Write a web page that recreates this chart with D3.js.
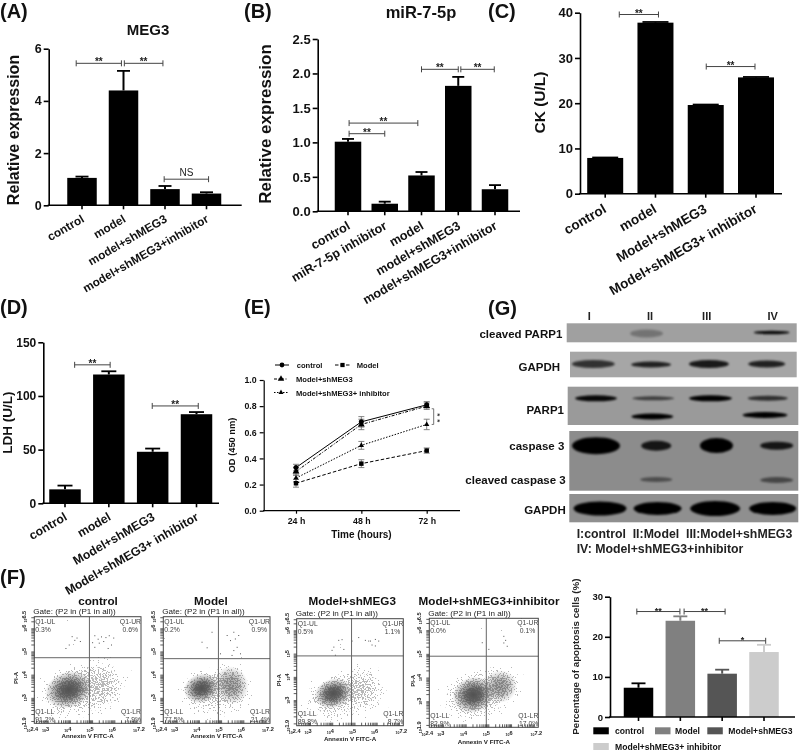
<!DOCTYPE html>
<html>
<head>
<meta charset="utf-8">
<script src="https://cdn.jsdelivr.net/npm/d3@7/dist/d3.min.js"></script>
<style>
html,body{margin:0;padding:0;background:#fff}
svg{display:block;filter:blur(0.35px)}
text{font-family:"Liberation Sans",Arial,sans-serif;fill:#111}
</style>
</head>
<body>
<svg id="fig" width="800" height="751" viewBox="0 0 800 751"></svg>
<script>
// ---------- Data ----------
const meg3Categories = ["control","model","model+shMEG3","model+shMEG3+inhibitor"];
const meg3Values = [1.05,4.4,0.62,0.45];
const meg3Upper = [1.1,5.15,0.74,0.5];
const meg3Brackets = [[-0.14,0.95,5.44,"**"],[1.02,1.95,5.44,"**"],[1.98,3.05,1.0,"NS"]];

const mirCategories = ["control","miR-7-5p inhibitor","model","model+shMEG3","model+shMEG3+inhibitor"];
const mirValues = [1.01,0.11,0.52,1.82,0.32];
const mirUpper = [1.05,0.14,0.57,1.95,0.38];
const mirBrackets = [[0.03,1.0,1.126,"**"],[0.03,1.9,1.28,"**"],[2.0,3.0,2.06,"**"],[3.07,3.98,2.06,"**"]];

const enzymeCategories = ["control","model","Model+shMEG3","Model+shMEG3+ inhibitor"];
const ckValues = [7.9,37.8,19.6,25.7];
const ckUpper = [8.0,37.95,19.7,25.8];
const ckBrackets = [[0.28,1.06,39.6,"**"],[2.01,2.98,28.1,"**"]];

const ldhValues = [13,120,48,83];
const ldhUpper = [16.5,123,51,85];
const ldhBrackets = [[0.22,1.03,129,"**"],[1.99,3.04,90.7,"**"]];

const odTimes = ["24 h","48 h","72 h"];
const odControl = [0.33,0.68,0.81];
const odModel = [0.21,0.36,0.46];
const odShMEG3 = [0.30,0.66,0.80];
const odInhibitor = [0.25,0.50,0.66];
const odControlErr = [0.025,0.04,0.025];
const odModelErr = [0.03,0.03,0.02];
const odShMEG3Err = [0.03,0.04,0.025];
const odInhibitorErr = [0.03,0.03,0.04];
const odSeriesNames = ["control","Model","Model+shMEG3","Model+shMEG3+ inhibitor"];

const apoptosisCategories = ["control","Model","Model+shMEG3","Model+shMEG3+ inhibitor"];
const apoptosisValues = [7.3,24,10.8,16.2];
const apoptosisUpper = [8.4,25.1,11.8,18];
const apoptosisBrackets = [[-0.04,0.99,26.3,"**"],[1.09,2.07,26.3,"**"],[1.93,3.04,19,"*"]];

const flowTitles = ["control","Model","Model+shMEG3","Model+shMEG3+inhibitor"];
const flowUL = ["0.3%","0.2%","0.5%","0.0%"];
const flowUR = ["0.6%","0.9%","1.1%","0.1%"];
const flowLL = ["91.2%","77.5%","89.8%","82.9%"];
const flowLR = ["7.9%","21.4%","8.7%","17.0%"];
// gate positions on the log axes (decades)
const flowGateX = [4.88,4.88,4.87,4.91];
const flowGateY = [4.73,4.69,4.9,4.9];
// upper-quadrant events read one by one (log10 x, log10 y)
const flowEventsControl = [[4.08,5.66],[4.2,5.5],[4.3,5.6],[4.45,5.45],[3.8,5.15],[3.95,5.3],[5.1,5.7],[5.25,5.55],[5.4,5.65],[5.6,5.62],[5.75,5.7],[5.95,5.6],[5.5,5.45],[5.3,5.38],[5.1,5.2],[5.7,5.15],[5.0,5.4],[5.85,5.3]];
const flowEventsModel = [[4.12,5.42],[4.57,5.85],[4.35,5.18],[5.25,5.71],[5.55,5.85],[5.4,5.49],[5.62,5.56],[5.77,5.71],[5.7,5.2],[5.85,4.92],[5.47,4.85],[5.55,5.06],[4.95,4.92]];
const flowEventsShMEG3 = [[4.42,5.62],[4.27,5.59],[4.05,5.3],[3.97,5.16],[4.5,5.2],[5.17,5.71],[5.47,5.59],[5.7,5.56],[5.92,5.63],[6.07,5.56],[5.77,5.39],[5.92,5.35],[5.62,5.56],[4.87,5.56],[4.12,4.95]];
const flowEventsInhibitor = [[4.71,5.49],[5.66,5.76],[5.74,5.59],[5.66,5.48],[5.81,5.34],[5.0,5.21]];
// population clouds: centre x, centre y, spread x, spread y (decades), density
const flowCloudsControl = [[4.4,3.25,1.2,0.8,0.8],[5.5,3.6,0.62,0.72,0.82],[3.95,3.35,0.72,0.52,1]];
const flowCloudsModel = [[4.8,3.25,1.15,0.8,0.78],[5.47,3.55,0.5,0.55,0.9],[4.12,3.41,0.54,0.42,1]];
const flowCloudsShMEG3 = [[4.3,3.15,1.1,0.72,0.78],[5.47,3.5,0.6,0.7,0.8],[4.05,3.29,0.58,0.42,1]];
const flowCloudsInhibitor = [[4.6,3.25,1.25,0.8,0.8],[5.52,3.62,0.5,0.46,0.9],[4.34,3.27,0.62,0.5,1]];

const blotLanes = ["I","II","III","IV"];
const cleavedParp1Signal = [0,0.28,0,0.95];
const gapdhTopSignal = [0.7,0.8,0.85,0.8];
const parp1Signal = [0.95,0.6,1,0.7];
const parp1LowerSignal = [0,1,0,1];
const caspase3Signal = [1,0.85,1,0.85];
const cleavedCaspase3Signal = [0,0.45,0,0.5];
const gapdhBottomSignal = [1,1,1,1];

// ---------- Helpers ----------
const svg = d3.select("#fig");
const FONT_BOLD = 700;
const defs = svg.append("defs");
defs.append("filter").attr("id","bandBlur").attr("x","-30%").attr("y","-80%").attr("width","160%").attr("height","260%")
  .append("feGaussianBlur").attr("stdDeviation",1.3);

function label(g,x,y,txt,size,opts={}){
  return g.append("text").attr("x",x).attr("y",y).text(txt)
    .attr("font-size",size).attr("font-weight",opts.weight===undefined?FONT_BOLD:opts.weight)
    .attr("text-anchor",opts.anchor||"start")
    .style("fill",opts.fill||"#111");
}
function vLabel(g,x,y,txt,size,opts={}){
  return g.append("text").attr("transform",`translate(${x},${y}) rotate(-90)`).text(txt)
    .attr("font-size",size).attr("font-weight",opts.weight===undefined?FONT_BOLD:opts.weight)
    .attr("text-anchor","middle").style("fill",opts.fill||"#111");
}

function barPanel(c){
  const g = svg.append("g");
  const step = (c.cLast-c.cFirst)/(c.categories.length-1);
  const x = d3.scaleBand().domain(c.categories)
    .range([c.cFirst-step/2,c.cLast+step/2])
    .paddingInner(1-c.barW/step).paddingOuter((1-c.barW/step)/2);
  const y = d3.scaleLinear().domain(c.domain).range([c.base,c.top]);
  const xi = d3.scaleLinear().domain([0,c.categories.length-1]).range([c.cFirst,c.cLast]);
  const fills = c.fills || c.categories.map(()=> "#000");

  g.selectAll(".bar").data(c.values).join("rect")
    .attr("x",(d,i)=>x(c.categories[i])).attr("width",x.bandwidth())
    .attr("y",d=>y(d)).attr("height",d=>c.base-y(d)).attr("fill",(d,i)=>fills[i]);
  const errColor = (i)=> fills[i];
  g.selectAll(".err").data(c.upper).join("line")
    .attr("x1",(d,i)=>xi(i)).attr("x2",(d,i)=>xi(i))
    .attr("y1",(d,i)=>y(c.values[i])).attr("y2",d=>y(d))
    .attr("stroke",(d,i)=>errColor(i)).attr("stroke-width",2);
  g.selectAll(".cap").data(c.upper).join("line")
    .attr("x1",(d,i)=>xi(i)-c.capW/2).attr("x2",(d,i)=>xi(i)+c.capW/2)
    .attr("y1",d=>y(d)).attr("y2",d=>y(d))
    .attr("stroke",(d,i)=>errColor(i)).attr("stroke-width",1.8);

  const yAxis = d3.axisLeft(y).tickValues(c.ticks).tickFormat(c.tickFormat).tickSize(5).tickSizeOuter(0);
  const ya = g.append("g").attr("transform",`translate(${c.axisX},0)`).call(yAxis);
  ya.selectAll("path,line").attr("stroke","#000").attr("stroke-width",1.6);
  ya.selectAll("text").attr("font-size",c.tickFont).attr("font-weight",FONT_BOLD).attr("x",-7);

  g.append("line").attr("x1",c.axisX-1).attr("x2",c.axisEnd).attr("y1",c.base).attr("y2",c.base)
    .attr("stroke","#000").attr("stroke-width",1.6);
  const xAxis = d3.axisBottom(x).tickSize(4).tickSizeOuter(0);
  const xa = g.append("g").attr("transform",`translate(0,${c.base})`).call(xAxis);
  xa.select(".domain").remove();
  xa.selectAll("line").attr("stroke","#000").attr("stroke-width",1.6);
  if(c.showXLabels!==false){
    xa.selectAll("text").attr("x",0).attr("y",0).attr("dy",0)
      .attr("text-anchor","end").attr("font-size",c.labelFont).attr("font-weight",FONT_BOLD)
      .attr("transform",`translate(${c.labelDx},${c.labelDy}) rotate(-30)`);
  } else {
    xa.selectAll("text").remove();
  }

  c.brackets.forEach(b=>{
    const x1=xi(b[0]),x2=xi(b[1]),yy=y(b[2]);
    const col="#444";
    g.append("path").attr("d",`M${x1},${yy-3}V${yy+3}M${x1},${yy}H${x2}M${x2},${yy-3}V${yy+3}`)
      .attr("fill","none").attr("stroke",col).attr("stroke-width",1);
    const isStar=b[3].includes("*");
    label(g,(x1+x2)/2,yy+(isStar?2:-3),b[3],isStar?c.starFont:10,{anchor:"middle",fill:"#222",weight:isStar?700:400});
  });
  return g;
}

// ---------- Panel letters ----------
const letters = [["(A)",0,18],["(B)",244,18],["(C)",488,18],["(D)",0,314],["(E)",244,314],["(G)",488,315],["(F)",0,584]];
letters.forEach(l=>label(svg,l[1],l[2],l[0],20));

// ---------- Panel A ----------
barPanel({categories:meg3Categories,values:meg3Values,upper:meg3Upper,brackets:meg3Brackets,
  cFirst:82,cLast:206.5,barW:29.5,capW:13,domain:[0,6],base:205.3,top:48.7,axisX:48.7,axisEnd:241.7,
  ticks:[0,2,4,6],tickFormat:d3.format("d"),tickFont:12.5,labelFont:11.8,labelDx:3,labelDy:16,starFont:10});
label(svg,148,35,"MEG3",15,{anchor:"middle"});
vLabel(svg,19,130,"Relative expression",16);

// ---------- Panel B ----------
barPanel({categories:mirCategories,values:mirValues,upper:mirUpper,brackets:mirBrackets,
  cFirst:348,cLast:495,barW:26.5,capW:12,domain:[0,2.5],base:211.3,top:39,axisX:317.7,axisEnd:520,
  ticks:[0,0.5,1,1.5,2,2.5],tickFormat:d3.format(".1f"),tickFont:13,labelFont:12.6,labelDx:3,labelDy:17,starFont:10});
label(svg,421,17.5,"miR-7-5p",16.5,{anchor:"middle"});
vLabel(svg,271,124,"Relative expression",17);

// ---------- Panel C ----------
barPanel({categories:enzymeCategories,values:ckValues,upper:ckUpper,brackets:ckBrackets,
  cFirst:605.2,cLast:756,barW:36,capW:26,domain:[0,40],base:193.7,top:12.7,axisX:580,axisEnd:782,
  ticks:[0,10,20,30,40],tickFormat:d3.format("d"),tickFont:13,labelFont:13.6,labelDx:2,labelDy:18,starFont:10});
vLabel(svg,545,102.5,"CK (U/L)",15.5);

// ---------- Panel D ----------
barPanel({categories:enzymeCategories,values:ldhValues,upper:ldhUpper,brackets:ldhBrackets,
  cFirst:65,cLast:196.5,barW:31.5,capW:15,domain:[0,150],base:503.3,top:342.3,axisX:43.3,axisEnd:219,
  ticks:[0,50,100,150],tickFormat:d3.format("d"),tickFont:12,labelFont:12.3,labelDx:3,labelDy:16,starFont:10});
vLabel(svg,12,422.7,"LDH (U/L)",13.5);

// ---------- Panel E ----------
(function(){
  const g = svg.append("g");
  const x = d3.scalePoint().domain(odTimes).range([296,426.7]);
  const y = d3.scaleLinear().domain([0,1]).range([510.7,380]);
  const series = [
    {v:odControl,e:odControlErr,sym:d3.symbolCircle,dash:null},
    {v:odModel,e:odModelErr,sym:d3.symbolSquare,dash:"3.5,2"},
    {v:odShMEG3,e:odShMEG3Err,sym:d3.symbolTriangle,dash:"3,1.5,1,1.5"},
    {v:odInhibitor,e:odInhibitorErr,sym:d3.symbolTriangle2,dash:"1.5,1.5"}
  ];
  const line = d3.line().x((d,i)=>x(odTimes[i])).y(d=>y(d));
  series.forEach(s=>{
    odTimes.forEach((t,i)=>{
      const yt=y(s.v[i]+s.e[i]),yb=y(s.v[i]-s.e[i]),cx=x(t);
      g.append("path").attr("d",`M${cx-3},${yt}H${cx+3}M${cx},${yt}V${yb}M${cx-3},${yb}H${cx+3}`)
        .attr("fill","none").attr("stroke","#777").attr("stroke-width",0.9);
    });
  });
  series.forEach(s=>{
    g.append("path").attr("d",line(s.v)).attr("fill","none").attr("stroke","#000").attr("stroke-width",1)
      .attr("stroke-dasharray",s.dash);
    g.selectAll(null).data(s.v).join("path")
      .attr("d",d3.symbol().type(s.sym).size(20))
      .attr("transform",(d,i)=>`translate(${x(odTimes[i])},${y(d)})`).attr("fill","#000");
  });
  const ya = g.append("g").attr("transform","translate(263.7,0)")
    .call(d3.axisLeft(y).tickValues([0,0.2,0.4,0.6,0.8,1]).tickFormat(d3.format(".1f")).tickSize(4).tickSizeOuter(0));
  ya.selectAll("path,line").attr("stroke","#000").attr("stroke-width",1.2);
  ya.selectAll("text").attr("font-size",8.8).attr("font-weight",FONT_BOLD);
  g.append("line").attr("x1",263).attr("x2",460).attr("y1",510.7).attr("y2",510.7).attr("stroke","#000").attr("stroke-width",1.2);
  const xa = g.append("g").attr("transform","translate(0,510.7)")
    .call(d3.axisBottom(x).tickSize(3).tickSizeOuter(0));
  xa.select(".domain").remove();
  xa.selectAll("line").attr("stroke","#000").attr("stroke-width",1.2);
  xa.selectAll("text").attr("font-size",8.8).attr("font-weight",FONT_BOLD).attr("y",7);
  label(svg,361.5,538,"Time (hours)",10,{anchor:"middle"});
  vLabel(svg,235,445,"OD (450 nm)",9.3);

  // significance marker at 72 h
  const bx=x("72 h")+7;
  g.append("path").attr("d",`M${bx-2},${y(0.78)}H${bx}V${y(0.66)}H${bx-2}`).attr("fill","none").attr("stroke","#666").attr("stroke-width",0.9);
  ["*","*"].forEach((s,i)=>g.append("text").text(s).attr("font-size",8).attr("font-weight",FONT_BOLD)
    .attr("transform",`translate(${bx+1},${y(0.745-i*0.045)}) rotate(90)`).style("fill","#333"));

  // legend
  const leg=[[275,365,odSeriesNames[0],296.7,0],[335,365,odSeriesNames[1],356.7,1],[275,379,odSeriesNames[2],296,2],[275,392.5,odSeriesNames[3],296,3]];
  leg.forEach(l=>{
    const s=series[l[4]];
    const x1=l[4]===0?275:(l[4]===1?335:274);
    const x2=l[4]===0?289:(l[4]===1?350:288);
    g.append("line").attr("x1",x1).attr("x2",x2).attr("y1",l[1]).attr("y2",l[1]).attr("stroke","#000").attr("stroke-width",1).attr("stroke-dasharray",s.dash);
    g.append("path").attr("d",d3.symbol().type(s.sym).size(18)).attr("transform",`translate(${(x1+x2)/2},${l[1]})`).attr("fill","#000");
    label(g,l[3],l[1]+3,l[2],7.6);
  });
})();

// ---------- Panel G: immunoblots ----------
(function(){
  const g = svg.append("g");
  const rows = [
    {box:[566.7,323.3,796.7,342.3],bg:"#a0a0a0",s:cleavedParp1Signal,first:584,last:771.7,cy:[333.5,333.5,333.5,332.5],w:[0,33,0,36],h:[0,8,0,3.5]},
    {box:[570,351.7,796.7,377.3],bg:"#a6a6a6",s:gapdhTopSignal,first:593.3,last:766.7,cy:[364,364.5,364,364],w:[43,40,40,37],h:[8,6,8,7]},
    {box:[567.7,386.7,798.3,425],bg:"#9a9a9a",s:parp1Signal,first:596,last:767.7,cy:[398.3,398.3,398.3,398.3],w:[42,42,43,40],h:[6,4,6,5]},
    {box:[567.7,386.7,798.3,425],bg:null,s:parp1LowerSignal,first:596,last:765,cy:[416.5,416.5,416.5,415],w:[0,42,0,45],h:[0,6,0,6]},
    {box:[569.3,431,798.3,490.7],bg:"#8c8c8c",s:caspase3Signal,first:596,last:776.7,cy:[445.7,445.7,445.5,445.7],w:[48,30,33,33],h:[17,10,15,8]},
    {box:[569.3,431,798.3,490.7],bg:null,s:cleavedCaspase3Signal,first:596,last:776.7,cy:[479.5,479.5,479.5,480],w:[0,32,0,33],h:[0,5,0,6]},
    {box:[569.3,494,798.3,522.3],bg:"#8f8f8f",s:gapdhBottomSignal,first:600,last:772.7,cy:[508.5,508.5,508.5,508.5],w:[53,48,50,47],h:[14,13,15,13]}
  ];
  rows.forEach(r=>{
    if(r.bg) g.append("rect").attr("x",r.box[0]).attr("y",r.box[1]).attr("width",r.box[2]-r.box[0]).attr("height",r.box[3]-r.box[1]).attr("fill",r.bg);
  });
  rows.forEach((r,ri)=>{
    const lane = d3.scalePoint().domain(blotLanes).range([r.first,r.last]);
    const cid="blotClip"+ri;
    defs.append("clipPath").attr("id",cid).append("rect").attr("x",r.box[0]).attr("y",r.box[1]).attr("width",r.box[2]-r.box[0]).attr("height",r.box[3]-r.box[1]);
    g.append("g").attr("clip-path",`url(#${cid})`).selectAll("ellipse").data(r.s).join("ellipse")
      .attr("cx",(d,i)=>lane(blotLanes[i])).attr("cy",(d,i)=>r.cy[i])
      .attr("rx",(d,i)=>r.w[i]/2).attr("ry",(d,i)=>r.h[i]/2)
      .attr("fill","#050505").attr("fill-opacity",d=>d).attr("filter","url(#bandBlur)");
  });
  const laneX=[589.3,650,706.7,772.7];
  blotLanes.forEach((l,i)=>label(g,laneX[i],320,l,11,{anchor:"middle",fill:"#222"}));
  [["cleaved PARP1",562.3,338],["GAPDH",560,370.7],["PARP1",564,414],["caspase 3",564.3,450],["cleaved caspase 3",565.7,484.3],["GAPDH",565.7,514]]
    .forEach(t=>label(g,t[1],t[2],t[0],11.5,{anchor:"end"}));
  label(g,576.7,537.7,"I:control  II:Model  III:Model+shMEG3",12.3,{fill:"#222"}).style("white-space","pre");
  label(g,576.7,553,"IV: Model+shMEG3+inhibitor",12.3,{fill:"#222"});
})();

// ---------- Panel F: flow cytometry ----------
const speck = defs.append("filter").attr("id","speck").attr("x",0).attr("y",0).attr("width",1).attr("height",1)
  .attr("color-interpolation-filters","sRGB");
speck.append("feTurbulence").attr("type","fractalNoise").attr("baseFrequency",0.7).attr("numOctaves",2).attr("seed",7).attr("result","n");
speck.append("feColorMatrix").attr("in","n").attr("type","matrix")
  .attr("values","0 0 0 0 0  0 0 0 0 0  0 0 0 0 0  2.5 0 0 0 -1.15").attr("result","na");
speck.append("feComposite").attr("in","SourceGraphic").attr("in2","na").attr("operator","arithmetic")
  .attr("k1",0).attr("k2",1).attr("k3",1).attr("k4",0).attr("result","sum");
speck.append("feColorMatrix").attr("in","sum").attr("type","matrix")
  .attr("values","0 0 0 0 0.3  0 0 0 0 0.3  0 0 0 0 0.3  0 0 0 10 -9.6");

const cloudGrad = defs.append("radialGradient").attr("id","cloudGrad");
d3.range(0,1.01,0.1).forEach(t=>cloudGrad.append("stop").attr("offset",t).attr("stop-color","#000")
  .attr("stop-opacity",Math.exp(-t*t*1.6)*(1-t*t*t)));
const coreGrad = defs.append("radialGradient").attr("id","coreGrad");
[[0,0.85],[0.4,0.72],[0.72,0.32],[1,0]].forEach(s=>coreGrad.append("stop").attr("offset",s[0]).attr("stop-color","#404040").attr("stop-opacity",s[1]));

const flowPanels = [
  {f:[34.3,616.7,141,723.3],titleX:98,titleY:605,gateY:614.5,pi:16,xlabY:738,events:flowEventsControl,clouds:flowCloudsControl},
  {f:[163.3,616.7,270,723.3],titleX:211,titleY:605,gateY:614.5,pi:null,xlabY:738,events:flowEventsModel,clouds:flowCloudsModel},
  {f:[296.7,618.7,403.3,725.7],titleX:352.3,titleY:605,gateY:616.5,pi:279,xlabY:741,events:flowEventsShMEG3,clouds:flowCloudsShMEG3},
  {f:[429.3,618.3,538.3,727.3],titleX:489,titleY:605,gateY:616.5,pi:412.7,xlabY:744,events:flowEventsInhibitor,clouds:flowCloudsInhibitor}
];
flowPanels.forEach((p,i)=>{
  const [x0,y0,x1,y1]=p.f;
  const g=svg.append("g");
  const x=d3.scaleLinear().domain([2.4,7.2]).range([x0,x1]);
  const y=d3.scaleLinear().domain([1.9,6.5]).range([y1,y0]);
  const cid="flowClip"+i;
  defs.append("clipPath").attr("id",cid).append("rect").attr("x",x0).attr("y",y0).attr("width",x1-x0).attr("height",y1-y0);

  const body=g.append("g").attr("clip-path",`url(#${cid})`);
  const cloud=body.append("g").attr("filter","url(#speck)");
  cloud.append("rect").attr("x",x0).attr("y",y0).attr("width",x1-x0).attr("height",y1-y0).attr("fill","#000").attr("fill-opacity",0);
  p.clouds.forEach(c=>{
    const rx=x(c[0]+c[2]*2.1)-x(c[0]), ry=y(c[1])-y(c[1]+c[3]*2.1);
    cloud.append("ellipse").attr("rx",rx).attr("ry",ry)
      .attr("transform",`translate(${x(c[0])},${y(c[1])}) rotate(-18)`)
      .attr("fill","url(#cloudGrad)").attr("opacity",c[4]);
  });
  // dense parts of the populations appear as nearly solid dark areas
  p.clouds.filter(c=>c[4]>0.85).forEach(c=>{
    const rx=x(c[0]+c[2]*1.5)-x(c[0]), ry=y(c[1])-y(c[1]+c[3]*1.5);
    body.append("ellipse").attr("rx",rx).attr("ry",ry)
      .attr("transform",`translate(${x(c[0])},${y(c[1])}) rotate(-18)`)
      .attr("fill","url(#coreGrad)").attr("opacity",c[4]===1?1:0.55);
  });
  body.selectAll(".ev").data(p.events).join("rect")
    .attr("x",d=>x(d[0])).attr("y",d=>y(d[1])).attr("width",1).attr("height",1).attr("fill","#555");

  g.append("line").attr("x1",x(flowGateX[i])).attr("x2",x(flowGateX[i])).attr("y1",y0).attr("y2",y1).attr("stroke","#666").attr("stroke-width",1);
  g.append("line").attr("x1",x0).attr("x2",x1).attr("y1",y(flowGateY[i])).attr("y2",y(flowGateY[i])).attr("stroke","#666").attr("stroke-width",1);
  g.append("rect").attr("x",x0).attr("y",y0).attr("width",x1-x0).attr("height",y1-y0).attr("fill","none").attr("stroke","#444").attr("stroke-width",1);

  // axes: minor decade ticks and labels
  const minors=(lo,hi)=>d3.range(2,8).flatMap(k=>d3.range(1,10).map(m=>k+Math.log10(m))).filter(v=>v>=lo&&v<=hi);
  const xa=g.append("g").attr("transform",`translate(0,${y1})`).call(d3.axisTop(x).tickValues(minors(2.4,7.2)).tickSize(3).tickFormat(""));
  xa.select(".domain").remove(); xa.selectAll("line").attr("stroke","#333").attr("stroke-width",0.8);
  const ya=g.append("g").attr("transform",`translate(${x0},0)`).call(d3.axisLeft(y).tickValues(minors(1.9,6.5)).tickSize(3).tickFormat(""));
  ya.select(".domain").remove(); ya.selectAll("line").attr("stroke","#333").attr("stroke-width",0.8);

  const pow=(sel,exp)=>{
    sel.append("tspan").text("10").attr("font-size",3.6);
    sel.append("tspan").text(exp).attr("font-size",5.6).attr("dy",-1.2);
  };
  [2.4,3,4,5,6,7.2].forEach(v=>{
    const t=g.append("text").attr("x",x(v)-2).attr("y",y1+8.5).attr("text-anchor","middle").attr("font-weight",700).style("fill","#222");
    pow(t,String(v));
  });
  [1.9,3,4,5,6,6.5].forEach(v=>{
    const t=g.append("text").attr("transform",`translate(${x0-7},${y(v)}) rotate(-90)`).attr("text-anchor","middle").attr("font-weight",700).style("fill","#222");
    pow(t,String(v));
  });

  label(g,p.titleX,p.titleY,flowTitles[i],11.7,{anchor:"middle",weight:700});
  label(g,x0-1,p.gateY-0.5,"Gate: (P2 in (P1 in all))",8.1,{weight:400,fill:"#222"});
  const qc="#444",qs=6.8;
  label(g,x0+1,y0+7,"Q1-UL",qs,{weight:400,fill:qc});
  label(g,x0+1,y0+14.8,flowUL[i],qs,{weight:400,fill:qc});
  label(g,x1,y0+7,"Q1-UR",qs,{weight:400,fill:qc,anchor:"end"});
  label(g,x1-3,y0+14.8,flowUR[i],qs,{weight:400,fill:qc,anchor:"end"});
  label(g,x0+1,y1-9.3,"Q1-LL",qs,{weight:400,fill:qc});
  label(g,x0+1,y1-1.5,flowLL[i],qs,{weight:400,fill:qc});
  label(g,x1,y1-9.3,"Q1-LR",qs,{weight:400,fill:qc,anchor:"end"});
  label(g,x1,y1-1.5,flowLR[i],qs,{weight:400,fill:qc,anchor:"end"});
  label(g,(x0+x1)/2,p.xlabY,"Annexin V FITC-A",6.2,{anchor:"middle",fill:"#222"});
  if(p.pi!==null) vLabel(g,p.pi+2,(y0+y1)/2+8,"PI-A",6,{fill:"#222"});
});

// ---------- Panel F right: apoptosis bars ----------
const apoptosisFills = ["#000000","#808080","#555555","#cccccc"];
barPanel({categories:apoptosisCategories,values:apoptosisValues,upper:apoptosisUpper,brackets:apoptosisBrackets,
  cFirst:638.5,cLast:764,barW:29.5,capW:14,domain:[0,30],base:717,top:596.7,axisX:610,axisEnd:795,fills:apoptosisFills,
  ticks:[0,10,20,30],tickFormat:d3.format("d"),tickFont:9.5,labelFont:8,labelDx:0,labelDy:0,starFont:9,showXLabels:false});
vLabel(svg,579,656.7,"Percentage of apoptosis cells (%)",9.8,{fill:"#222"});
const apoLegend=[[593.3,727.3,615],[655,727.3,675],[707.3,727.3,728.3],[593.3,743,615]];
apoptosisCategories.forEach((n,i)=>{
  const l=apoLegend[i];
  svg.append("rect").attr("x",l[0]).attr("y",l[1]).attr("width",15.5).attr("height",7).attr("fill",apoptosisFills[i]);
  label(svg,l[2],l[1]+6.8,n,8.6);
});
</script>
</body>
</html>
